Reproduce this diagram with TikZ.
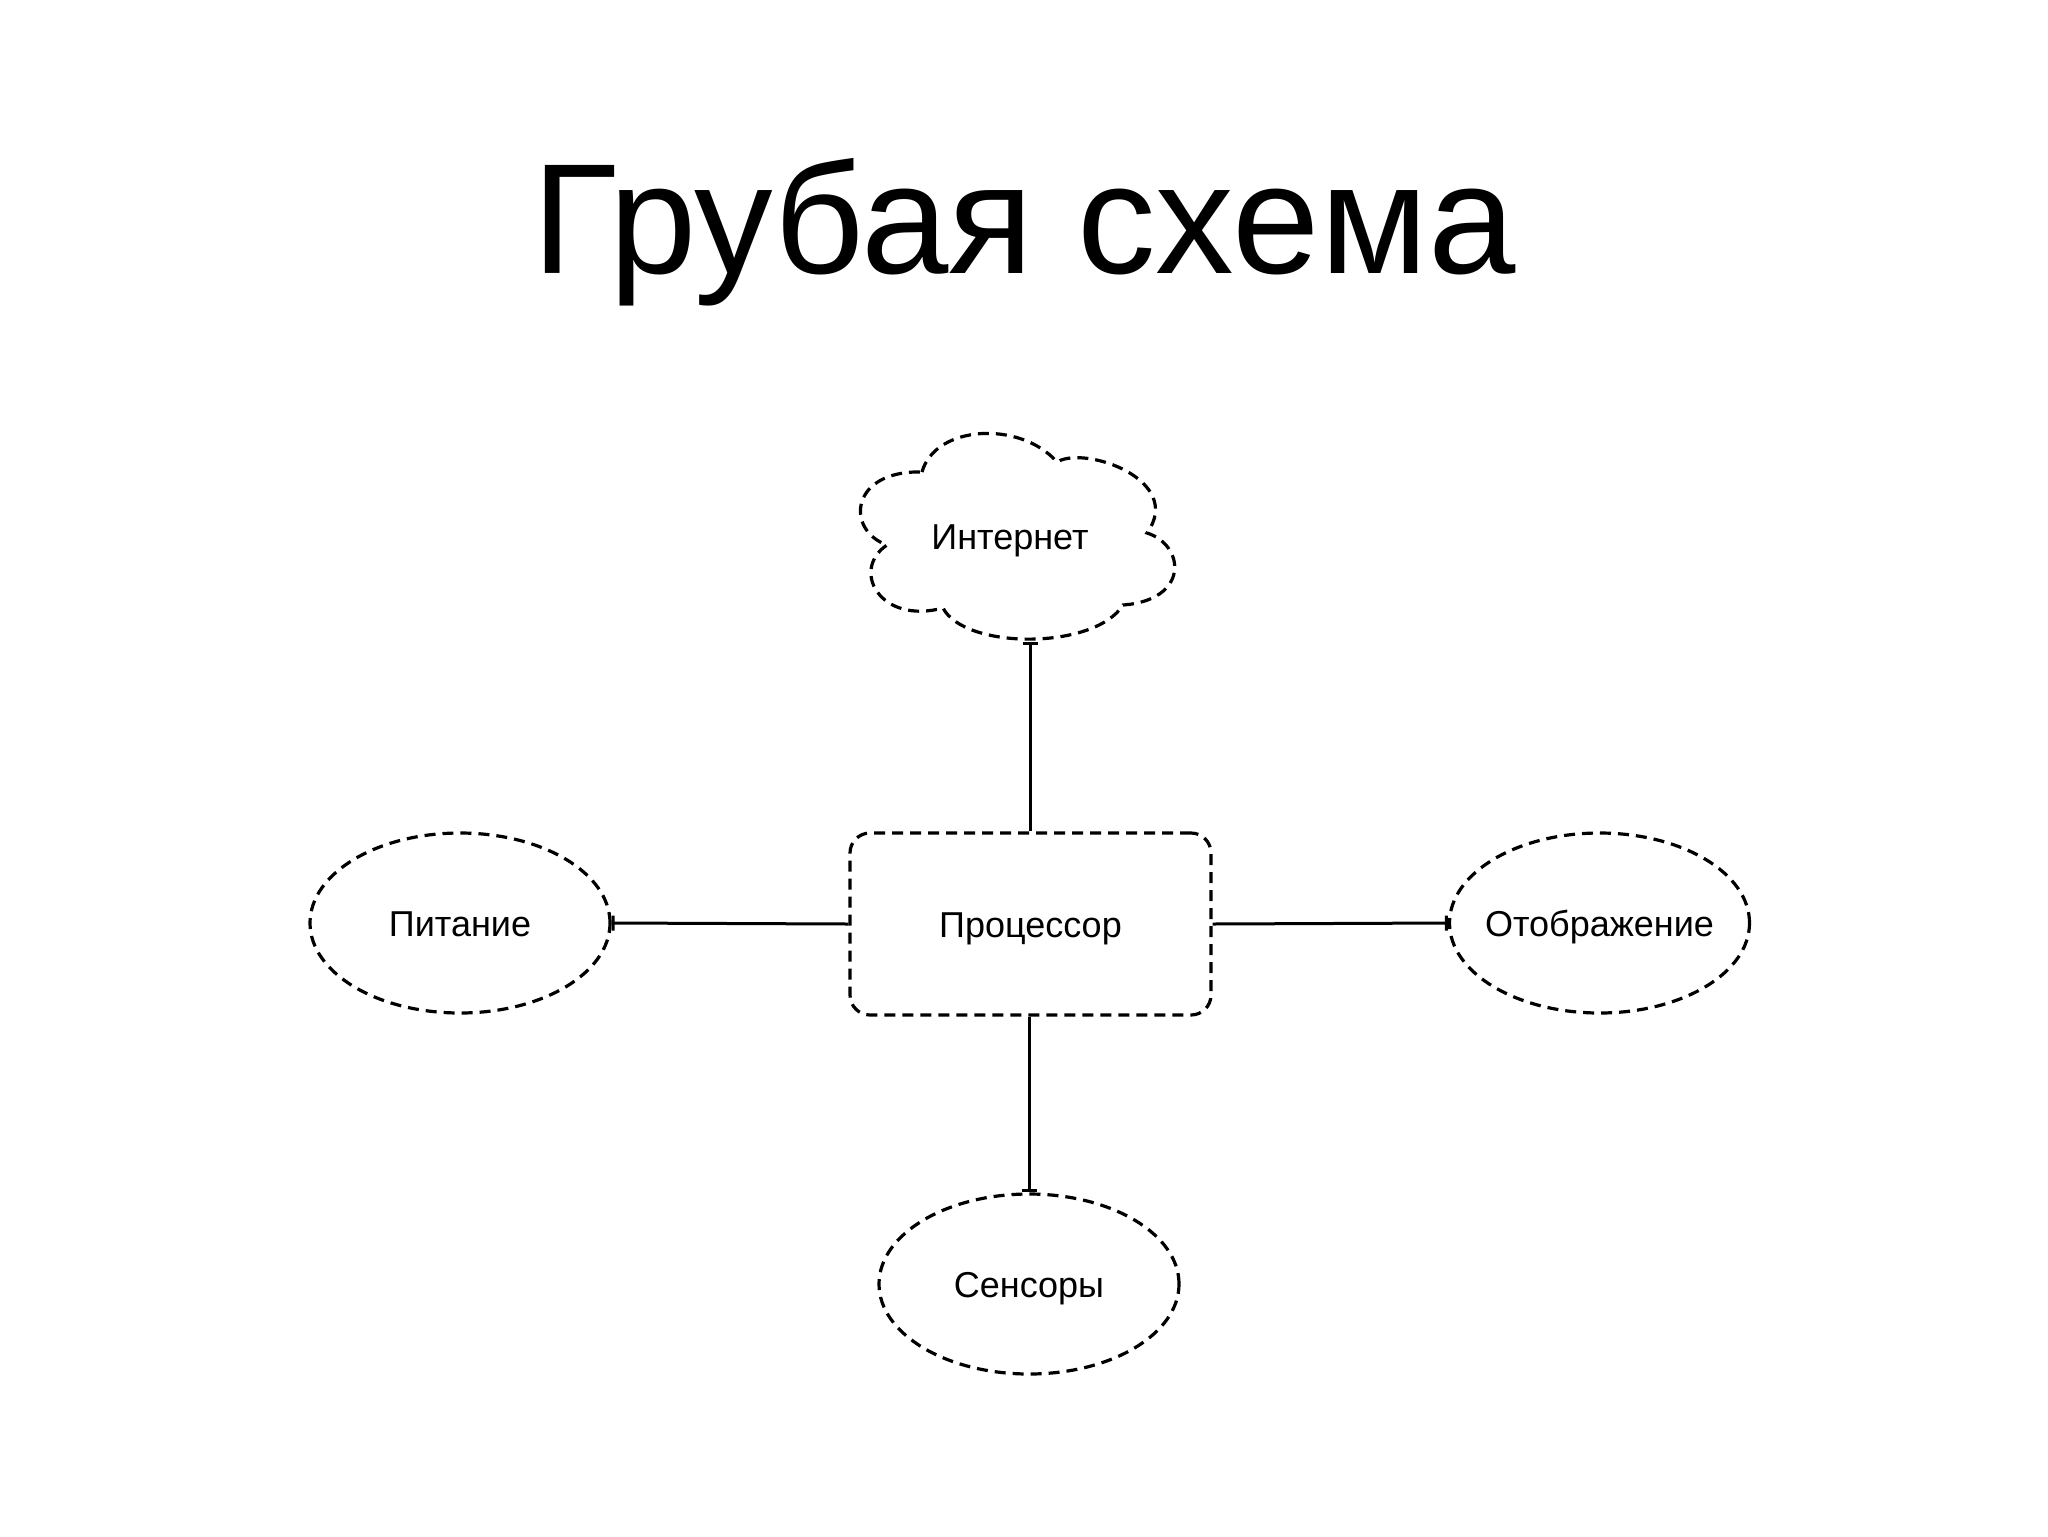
\documentclass[tikz,border=0pt]{standalone}
\usepackage{fontspec}
\setmainfont{Liberation Sans}
\usetikzlibrary{shapes.geometric,arrows.meta}
\begin{document}
\begin{tikzpicture}[x=0.5pt,y=-0.5pt,
  dashedshape/.style={draw=black,line width=1.6pt,dash pattern=on 5.5pt off 3.5pt},
  lbl/.style={font=\fontsize{18pt}{21pt}\selectfont,text height=13pt,text depth=0pt},
  ellnode/.style={dashedshape,ellipse,minimum width=150pt,minimum height=90pt,inner sep=0pt,lbl,text width=0pt,align=center},
  boxnode/.style={dashedshape,rectangle,rounded corners=10pt,minimum width=180.5pt,minimum height=91pt,inner sep=0pt,lbl},
  txtnode/.style={inner sep=0pt,lbl},
  link/.style={draw=black,line width=1.5pt,-{Bar[width=7.5pt,line width=1.5pt]}}
]
\path[use as bounding box,fill=white] (0,0) rectangle (2048,1536);
% title
\node[anchor=base,inner sep=0pt,font=\fontsize{78.5pt}{86pt}\selectfont] (title) at (1024,273) {Грубая схема};
% cloud
\draw[dashedshape]
  (922,472) .. controls (935,425) and (1020,420) .. (1057,462)
  .. controls (1085,445) and (1185,480) .. (1147,533)
  .. controls (1185,545) and (1190,600) .. (1123,605)
  .. controls (1095,650) and (965,650) .. (943,608)
  .. controls (880,625) and (850,570) .. (887,545)
  .. controls (845,530) and (850,470) .. cycle;
\node[txtnode] (internet) at (1010,536) {Интернет};
\coordinate (cloudbot) at (1030,642);
% nodes
\node[boxnode] (cpu) at (1030.5,924) {Процессор};
\node[ellnode] (power) at (460,923) {\makebox[0pt][c]{Питание}};
\node[ellnode] (display) at (1599.5,923) {\makebox[0pt][c]{Отображение}};
\node[ellnode] (sensors) at (1029,1284) {\makebox[0pt][c]{Сенсоры}};
% connectors
\draw[link] (cpu.north -| cloudbot) -- (cloudbot);
\draw[link] (cpu.west) -- (power.east);
\draw[link] (cpu.east) -- (display.west);
\draw[link] (cpu.south -| sensors.north) -- (sensors.north);
\end{tikzpicture}
\end{document}
